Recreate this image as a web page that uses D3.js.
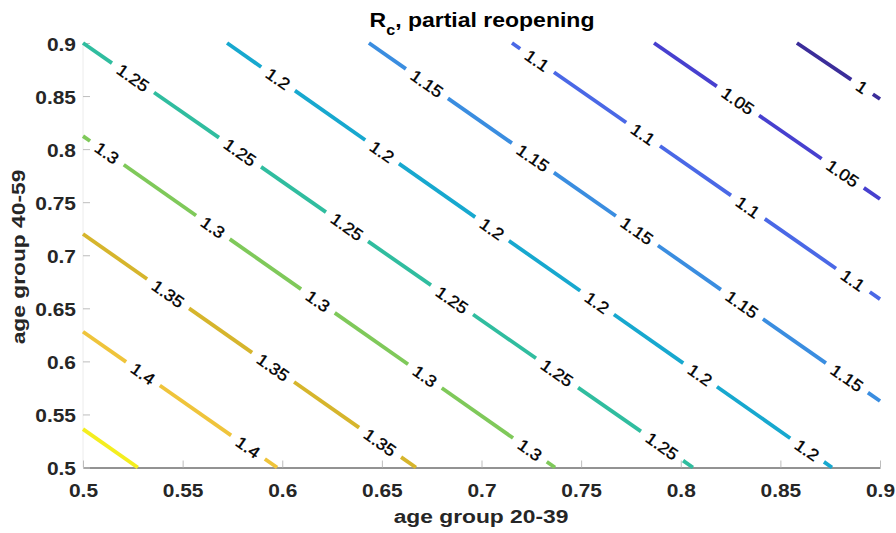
<!DOCTYPE html>
<html><head><meta charset="utf-8">
<script src="https://cdn.jsdelivr.net/npm/d3@7"></script>
<style>
body{margin:0;background:#fff}
text{font-family:"Liberation Sans",Arial,Helvetica,sans-serif}
</style>
</head><body>
<svg id="c" width="896" height="533"></svg>
<script>
// ---- data ----
const levels      = [1.0, 1.05, 1.1, 1.15, 1.2, 1.25, 1.3, 1.35, 1.4, 1.45];
const levelLabels = ["1", "1.05", "1.1", "1.15", "1.2", "1.25", "1.3", "1.35", "1.4", ""];
// straight contour lines: endpoints in data coordinates
const startX = [0.8583, 0.7866, 0.7153, 0.6435, 0.5723, 0.5, 0.5, 0.5, 0.5, 0.5];
const startY = [0.9, 0.9, 0.9, 0.9, 0.9, 0.9, 0.8123, 0.72, 0.6279, 0.5362];
const endX   = [0.9, 0.9, 0.9, 0.9, 0.8759, 0.8061, 0.7369, 0.6671, 0.5974, 0.5275];
const endY   = [0.8472, 0.753, 0.6587, 0.5626, 0.5, 0.5, 0.5, 0.5, 0.5, 0.5];
// x (age group 20-39) positions of the inline labels on each contour
const labelX = [
  [0.891],
  [0.8287, 0.8813],
  [0.7279, 0.7811, 0.8337, 0.8864],
  [0.6726, 0.7258, 0.7780, 0.8307, 0.8834],
  [0.5979, 0.6501, 0.7053, 0.758, 0.8097, 0.8634],
  [0.5251, 0.5788, 0.6325, 0.6852, 0.7379, 0.7906],
  [0.512, 0.5652, 0.6179, 0.6716, 0.7243],
  [0.5427, 0.5954, 0.6491],
  [0.5301, 0.5828],
  []
];
const xTicks = [0.5, 0.55, 0.6, 0.65, 0.7, 0.75, 0.8, 0.85, 0.9];
const yTicks = [0.5, 0.55, 0.6, 0.65, 0.7, 0.75, 0.8, 0.85, 0.9];
const xTickLabels = ["0.5","0.55","0.6","0.65","0.7","0.75","0.8","0.85","0.9"];
const yTickLabels = ["0.5","0.55","0.6","0.65","0.7","0.75","0.8","0.85","0.9"];

// ---- style ----
const palette = ["#3b2d9a","#4740cf","#4a68e6","#3a8de0","#17a8cf","#30bd9f","#7fc95a","#d6b52c","#efc43b","#f4ee1f"];
const L = 83, R = 880, T = 43, B = 467.5;

const svg = d3.select("#c");
const x = d3.scaleLinear().domain([0.5, 0.9]).range([L, R]);
const y = d3.scaleLinear().domain([0.5, 0.9]).range([B, T]);
const color = d3.scaleOrdinal().domain(levels).range(palette);

// faint left axis line
svg.append("line").attr("x1", L).attr("x2", L).attr("y1", T).attr("y2", B)
  .attr("stroke", "#ececec").attr("stroke-width", 1);

// x axis
const xAxis = d3.axisBottom(x).tickValues(xTicks).tickSize(0).tickFormat((d,i)=>xTickLabels[i]);
const gx = svg.append("g").attr("transform", `translate(0,${B})`).call(xAxis);
gx.select(".domain").attr("stroke", "#262626").attr("stroke-width", 1);
gx.selectAll(".tick text").attr("fill", "#262626").attr("font-size", 19).attr("font-weight", "bold")
  .attr("y", 0).attr("dy", 0)
  .attr("transform", "translate(0,29.5) scale(1.1,1)")
  .attr("font-family", "Liberation Sans, Arial, sans-serif");
gx.selectAll(".tick").append("line").attr("y1", 0).attr("y2", -7).attr("stroke", "#bdbdbd");

// y axis
const yAxis = d3.axisLeft(y).tickValues(yTicks).tickSize(0).tickFormat((d,i)=>yTickLabels[i]);
const gy = svg.append("g").attr("transform", `translate(${L},0)`).call(yAxis);
gy.select(".domain").remove();
gy.selectAll(".tick text").attr("fill", "#262626").attr("font-size", 19).attr("font-weight", "bold")
  .attr("x", 0).attr("dy", 0).attr("text-anchor", "end")
  .attr("transform", "translate(-7,7) scale(1.1,1)")
  .attr("font-family", "Liberation Sans, Arial, sans-serif");
gy.selectAll(".tick").append("line").attr("x1", 0).attr("x2", 7).attr("stroke", "#bdbdbd");

// contours
const gLines = svg.append("g");
const gText = svg.append("g");
const pad = 8, labelStretch = 1.1;
levels.forEach((lv, i) => {
  const x0 = x(startX[i]), y0 = y(startY[i]), x1 = x(endX[i]), y1 = y(endY[i]);
  const len = Math.hypot(x1 - x0, y1 - y0);
  const ux = (x1 - x0) / len, uy = (y1 - y0) / len;
  const ang = Math.atan2(y1 - y0, x1 - x0) * 180 / Math.PI;
  const gaps = [];
  labelX[i].forEach(lx => {
    const t = (x(lx) - x0) / ux;
    const cx = x0 + ux * t, cy = y0 + uy * t;
    const tx = gText.append("text")
      .attr("transform", `translate(${cx},${cy}) rotate(${ang}) scale(${labelStretch},1)`)
      .attr("text-anchor", "middle").attr("dy", "0.36em")
      .attr("font-size", 16.5).attr("fill", "#000")
      .attr("stroke", "#000").attr("stroke-width", 0.35)
      .text(levelLabels[i]);
    const w = tx.node().getComputedTextLength() * labelStretch;
    gaps.push([t - w / 2 - pad, t + w / 2 + pad]);
  });
  gaps.sort((a, b) => a[0] - b[0]);
  const segs = [];
  let s = 0;
  gaps.forEach(g => { if (g[0] > s) segs.push([s, Math.min(g[0], len)]); s = Math.max(s, g[1]); });
  if (s < len) segs.push([s, len]);
  segs.forEach(sg => {
    gLines.append("line")
      .attr("x1", x0 + ux * sg[0]).attr("y1", y0 + uy * sg[0])
      .attr("x2", x0 + ux * sg[1]).attr("y2", y0 + uy * sg[1])
      .attr("stroke", color(lv)).attr("stroke-width", 3.8).attr("stroke-linecap", "butt");
  });
});

// title
const title = svg.append("text").attr("transform", "translate(482,27) scale(1.15,1)")
  .attr("text-anchor", "middle").attr("font-size", 20).attr("font-weight", "bold").attr("fill", "#000");
title.append("tspan").text("R");
title.append("tspan").attr("font-size", 14).attr("dy", 8).text("c");
title.append("tspan").attr("dy", -8).text(", partial reopening");

// axis labels
svg.append("text").attr("transform", "translate(481,523) scale(1.2,1)")
  .attr("text-anchor", "middle").attr("font-size", 19).attr("font-weight", "bold").attr("fill", "#262626")
  .text("age group 20-39");
svg.append("text").attr("transform", "translate(25,257) rotate(-90) scale(1.2,1)")
  .attr("text-anchor", "middle").attr("font-size", 19).attr("font-weight", "bold").attr("fill", "#262626")
  .text("age group 40-59");
</script>
</body></html>
